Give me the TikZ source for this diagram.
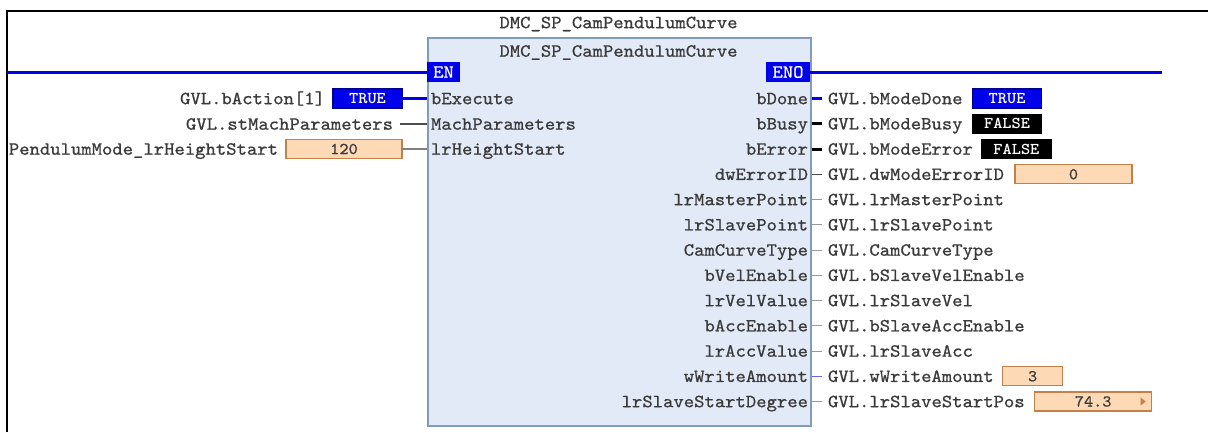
\documentclass[tikz,border=0pt]{standalone}
\usepackage{fontspec}
\usetikzlibrary{positioning}
\newfontfamily\plcfont[FakeStretch=1.06,FakeBold=0.8]{lmmono10-regular.otf}
\newfontfamily\plcboldfont[FakeStretch=1.06]{lmmonolt10-bold.otf}
\newcommand\plcvalfont{\plcfont\fontsize{16.5}{18}\selectfont}
\newcommand\plcflagfont{\plcboldfont\fontsize{16.5}{18}\selectfont}
\definecolor{plcblue}{RGB}{0,0,235}
\definecolor{plctext}{RGB}{58,58,58}
\definecolor{fbfill}{RGB}{227,234,247}
\definecolor{fbline}{RGB}{127,157,185}
\definecolor{valfill}{RGB}{253,217,181}
\definecolor{valline}{RGB}{196,128,70}
\definecolor{lightblue}{RGB}{100,100,255}

\tikzset{
  pinlbl/.style={inner sep=0pt,outer sep=0pt,text height=11.4pt,text depth=0pt,text=plctext},
  varlbl/.style={pinlbl,anchor=west,outer xsep=6pt},
  fblock/.style={draw=fbline,fill=fbfill,line width=1.5pt,inner sep=0pt},
  railbox/.style={fill=plcblue,text=white,inner sep=0pt,outer sep=0pt,
    minimum height=20pt,text height=11.4pt,text depth=0pt},
  valbox/.style={draw=valline,fill=valfill,line width=1.2pt,minimum height=19pt,
    inner sep=0pt,outer sep=0pt,font=\plcvalfont,text height=10.1pt,text depth=0pt,
    text=plctext},
  truebox/.style={valbox,draw=blue!55!black,fill=plcblue,text=white,font=\plcflagfont},
  falsebox/.style={valbox,draw=black,fill=black,text=white,font=\plcflagfont},
  rail/.style={plcblue,line width=3pt},
  bluewire/.style={plcblue,line width=3pt},
  blackwire/.style={black,line width=3pt},
  darkwire/.style={black!70,line width=1.5pt},
  greywire/.style={black!50,line width=1.6pt},
  thinwire/.style={black!40,line width=1pt},
  thinblue/.style={lightblue,line width=1.2pt},
}

\begin{document}
\begin{tikzpicture}[x=1pt,y=-1pt,font=\plcfont\fontsize{18.6}{20}\selectfont]
  \fill[white] (0,0) rectangle (1208,432);
  \useasboundingbox (0,0) rectangle (1208,432);
  \draw[black,line width=2pt] (7,432) -- (7,10.5) -- (1208,10.5);

  % function block
  \node[pinlbl] (title) at (618.5,22.5) {DMC\_SP\_CamPendulumCurve};
  \node[fblock,minimum width=383pt,minimum height=388pt,anchor=north west] (fb) at (427,37) {};
  \node[pinlbl] (fbname) at (618.5,51) {DMC\_SP\_CamPendulumCurve};
  \node[railbox,minimum width=33pt,anchor=west] (en) at (427,72) {EN};
  \node[railbox,minimum width=44pt,anchor=east] (eno) at (810,72) {ENO};
  \coordinate (railL) at (7,72);
  \coordinate (railR) at (1162,72);
  \draw[rail] (railL) -- (en.west);
  \draw[rail] (eno.east) -- (railR);

  % inputs
  \node[pinlbl,anchor=west] (in1) at (431,98.5) {bExecute};
  \node[pinlbl,anchor=west] (in2) at (431,124) {MachParameters};
  \node[pinlbl,anchor=west] (in3) at (431,149) {lrHeightStart};
  \node[truebox,minimum width=69pt,anchor=east] (in1val) at (402,98.5) {TRUE};
  \node[pinlbl,left=8pt of in1val] (in1var) {GVL.bAction[1]};
  \node[pinlbl,anchor=east,outer xsep=7pt] (in2var) at (400,124) {GVL.stMachParameters};
  \node[valbox,minimum width=116pt,anchor=east] (in3val) at (402,149) {120};
  \node[pinlbl,left=8pt of in3val] (in3var) {PendulumMode\_lrHeightStart};
  \draw[bluewire] (in1val.east) -- (fb.west |- in1val.east);
  \draw[darkwire] (in2var.east) -- (fb.west |- in2var.east);
  \draw[greywire] (in3val.east) -- (fb.west |- in3val.east);

  % outputs
  \foreach \pin/\var/\wire [count=\i from 0] in {bDone/bModeDone/bluewire,
      bBusy/bModeBusy/blackwire, bError/bModeError/blackwire,
      dwErrorID/dwModeErrorID/darkwire, lrMasterPoint/lrMasterPoint/thinwire,
      lrSlavePoint/lrSlavePoint/thinwire, CamCurveType/CamCurveType/thinwire,
      bVelEnable/bSlaveVelEnable/thinwire, lrVelValue/lrSlaveVel/thinwire,
      bAccEnable/bSlaveAccEnable/thinwire, lrAccValue/lrSlaveAcc/thinwire,
      wWriteAmount/wWriteAmount/thinblue,
      lrSlaveStartDegree/lrSlaveStartPos/thinwire}{
    \node[pinlbl,anchor=east] (out\i) at (808,{98.5+25.25*\i}) {\pin};
    \node[varlbl] (var\i) at (822,{98.5+25.25*\i}) {GVL.\var};
    \draw[\wire] (fb.east |- var\i.west) -- (var\i.west);
  }

  % online values
  \node[truebox,minimum width=69pt,right=4pt of var0] (val0) {TRUE};
  \node[falsebox,minimum width=69pt,right=4pt of var1] (val1) {FALSE};
  \node[falsebox,minimum width=69pt,right=3pt of var2] (val2) {FALSE};
  \node[valbox,minimum width=117pt,right=5pt of var3] (val3) {0};
  \node[valbox,minimum width=60pt,right=3pt of var11] (val11) {3};
  \node[valbox,minimum width=117pt,right=4pt of var12] (val12) {74.3};
  \fill[valline] ([xshift=-11pt]val12.east) ++(0,-4) -- ++(5,4) -- ++(-5,4) -- cycle;
\end{tikzpicture}
\end{document}
